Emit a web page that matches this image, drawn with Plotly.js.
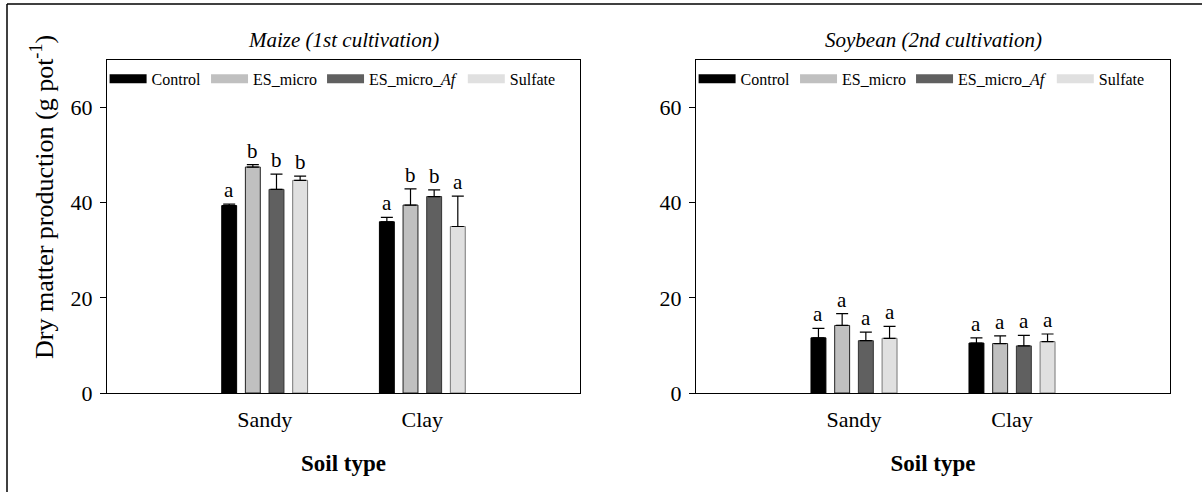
<!DOCTYPE html>
<html>
<head>
<meta charset="utf-8">
<script src="https://cdn.plot.ly/plotly-3.0.1.min.js"></script>
<style>html,body{margin:0;padding:0;background:#fff;}#chart{width:1202px;height:492px;}</style>
</head>
<body>
<div id="chart"></div>
<script>
// ---- data ----
const categories = ['Sandy', 'Clay'];
const seriesNames = ['Control', 'ES_micro', 'ES_micro_<i>Af</i>', 'Sulfate'];
const seriesColors = ['#000000', '#c0c0c0', '#606060', '#e0e0e0'];
const seriesEdge = ['#000000', '#222222', '#333333', '#777777'];

// Maize (1st cultivation)
const maizeControl = [39.4, 36.0];
const maizeESmicro = [47.5, 39.5];
const maizeESmicroAf = [42.8, 41.3];
const maizeSulfate = [44.7, 35.0];
const maizeControlErr = [0.3, 0.9];
const maizeESmicroErr = [0.5, 3.4];
const maizeESmicroAfErr = [3.2, 1.4];
const maizeSulfateErr = [0.9, 6.4];
const maizeControlLet = ['a', 'a'];
const maizeESmicroLet = ['b', 'b'];
const maizeESmicroAfLet = ['b', 'b'];
const maizeSulfateLet = ['b', 'a'];

// Soybean (2nd cultivation)
const soyControl = [11.6, 10.5];
const soyESmicro = [14.2, 10.4];
const soyESmicroAf = [11.0, 9.9];
const soySulfate = [11.5, 10.8];
const soyControlErr = [2.0, 1.1];
const soyESmicroErr = [2.5, 1.6];
const soyESmicroAfErr = [1.8, 2.2];
const soySulfateErr = [2.5, 1.6];
const soyControlLet = ['a', 'a'];
const soyESmicroLet = ['a', 'a'];
const soyESmicroAfLet = ['a', 'a'];
const soySulfateLet = ['a', 'a'];

const yTicks = [0, 20, 40, 60];

// ---- build ----
const FONT = 'Liberation Serif, Times New Roman, serif';
const panels = [
  {xa: 'x', ya: 'y', legend: 'legend',
   vals: [maizeControl, maizeESmicro, maizeESmicroAf, maizeSulfate],
   errs: [maizeControlErr, maizeESmicroErr, maizeESmicroAfErr, maizeSulfateErr],
   lets: [maizeControlLet, maizeESmicroLet, maizeESmicroAfLet, maizeSulfateLet]},
  {xa: 'x2', ya: 'y2', legend: 'legend2',
   vals: [soyControl, soyESmicro, soyESmicroAf, soySulfate],
   errs: [soyControlErr, soyESmicroErr, soyESmicroAfErr, soySulfateErr],
   lets: [soyControlLet, soyESmicroLet, soyESmicroAfLet, soySulfateLet]}
];

const bargap = 0.4;
const slot = (1 - bargap) / seriesNames.length;
const traces = [];
const annotations = [];

panels.forEach((p, pi) => {
  seriesNames.forEach((name, si) => {
    traces.push({
      type: 'bar', x: categories, y: p.vals[si], name: name,
      xaxis: p.xa, yaxis: p.ya, showlegend: false, legendgroup: 'g' + si,
      marker: {color: seriesColors[si], line: {color: seriesEdge[si], width: 1}},
      error_y: {type: 'data', symmetric: false, array: p.errs[si],
                arrayminus: p.errs[si].map(() => 0),
                color: '#000', thickness: 1.2, width: 6},
      hoverinfo: 'x+y'
    });
    // legend-only proxy with a wide swatch
    traces.push({
      type: 'scatter', mode: 'lines', x: [categories[0]], y: [null],
      xaxis: p.xa, yaxis: p.ya, name: name, legend: p.legend, legendgroup: 'g' + si,
      line: {color: seriesColors[si], width: 9},
      hoverinfo: 'skip'
    });
    categories.forEach((c, ci) => {
      annotations.push({
        xref: p.xa, yref: p.ya,
        x: ci + (si - (seriesNames.length - 1) / 2) * slot,
        y: p.vals[si][ci] + p.errs[si][ci],
        text: p.lets[si][ci], showarrow: false, xanchor: 'center', yanchor: 'bottom',
        font: {family: FONT, size: 21, color: '#000'}
      });
    });
  });
});

annotations.push({xref: 'paper', yref: 'paper', x: (107 + 580) / 2 / 1202, y: 1 - 40 / 492,
  text: '<i>Maize (1st cultivation)</i>', showarrow: false, xanchor: 'center', yanchor: 'middle',
  font: {family: FONT, size: 21, color: '#000'}});
annotations.push({xref: 'paper', yref: 'paper', x: (696 + 1170) / 2 / 1202, y: 1 - 40 / 492,
  text: '<i>Soybean (2nd cultivation)</i>', showarrow: false, xanchor: 'center', yanchor: 'middle',
  font: {family: FONT, size: 21, color: '#000'}});
// y-axis title (placed like the reference, slightly above the axis centre)
annotations.push({xref: 'paper', yref: 'paper', x: 42 / 1202, y: 1 - 197 / 492,
  text: 'Dry matter production (g pot<sup>-1</sup>)', showarrow: false, textangle: -90,
  xanchor: 'center', yanchor: 'middle',
  font: {family: FONT, size: 26, color: '#000'}});

const yDom = [1 - 393 / 492, 1 - 60 / 492];
function xAxis(dom) {
  return {domain: dom, type: 'category', range: [-1, 2],
    showline: true, mirror: true, linecolor: '#000', linewidth: 1.2, ticks: '',
    showgrid: false, zeroline: false, fixedrange: true, ticklabelstandoff: 6,
    tickfont: {family: FONT, size: 22, color: '#000'},
    title: {text: '<b>Soil type</b>', standoff: 24, font: {family: FONT, size: 23, color: '#000'}}};
}
function yAxis() {
  return {domain: yDom, range: [0, 70], tickvals: yTicks, ticks: 'outside', ticklen: 6,
    tickcolor: '#000', showline: true, mirror: true, linecolor: '#000', linewidth: 1.2,
    showgrid: false, zeroline: false, fixedrange: true, ticklabelstandoff: 3,
    tickfont: {family: FONT, size: 22, color: '#000'}};
}
const xa1 = xAxis([107 / 1202, 580 / 1202]); xa1.anchor = 'y';
const xa2 = xAxis([696 / 1202, 1170 / 1202]); xa2.anchor = 'y2';
const ya1 = yAxis(); ya1.anchor = 'x';
const ya2 = yAxis(); ya2.anchor = 'x2';

const legendCommon = {orientation: 'h', xanchor: 'left', yanchor: 'top', y: yDom[1] - 0.004,
  bgcolor: 'rgba(0,0,0,0)', borderwidth: 0, itemwidth: 37, traceorder: 'normal',
  font: {family: FONT, size: 16, color: '#000'}};

const layout = {
  width: 1202, height: 492,
  margin: {l: 0, r: 0, t: 0, b: 0},
  paper_bgcolor: '#fff', plot_bgcolor: '#fff',
  barmode: 'group', bargap: bargap, bargroupgap: 0.37,
  showlegend: true,
  legend: Object.assign({}, legendCommon, {x: 107 / 1202 - 0.002}),
  legend2: Object.assign({}, legendCommon, {x: 696 / 1202 - 0.002}),
  xaxis: xa1, yaxis: ya1, xaxis2: xa2, yaxis2: ya2,
  annotations: annotations,
  shapes: [
    {type: 'line', xref: 'paper', yref: 'paper', x0: 7 / 1202, x1: 1, y0: 1 - 4 / 492, y1: 1 - 4 / 492,
     line: {color: '#000', width: 1.5}},
    {type: 'line', xref: 'paper', yref: 'paper', x0: 7 / 1202, x1: 7 / 1202, y0: 0, y1: 1 - 4 / 492,
     line: {color: '#000', width: 1.5}}
  ],
  font: {family: FONT, color: '#000'}
};

Plotly.newPlot('chart', traces, layout, {displayModeBar: false});
</script>
</body>
</html>
